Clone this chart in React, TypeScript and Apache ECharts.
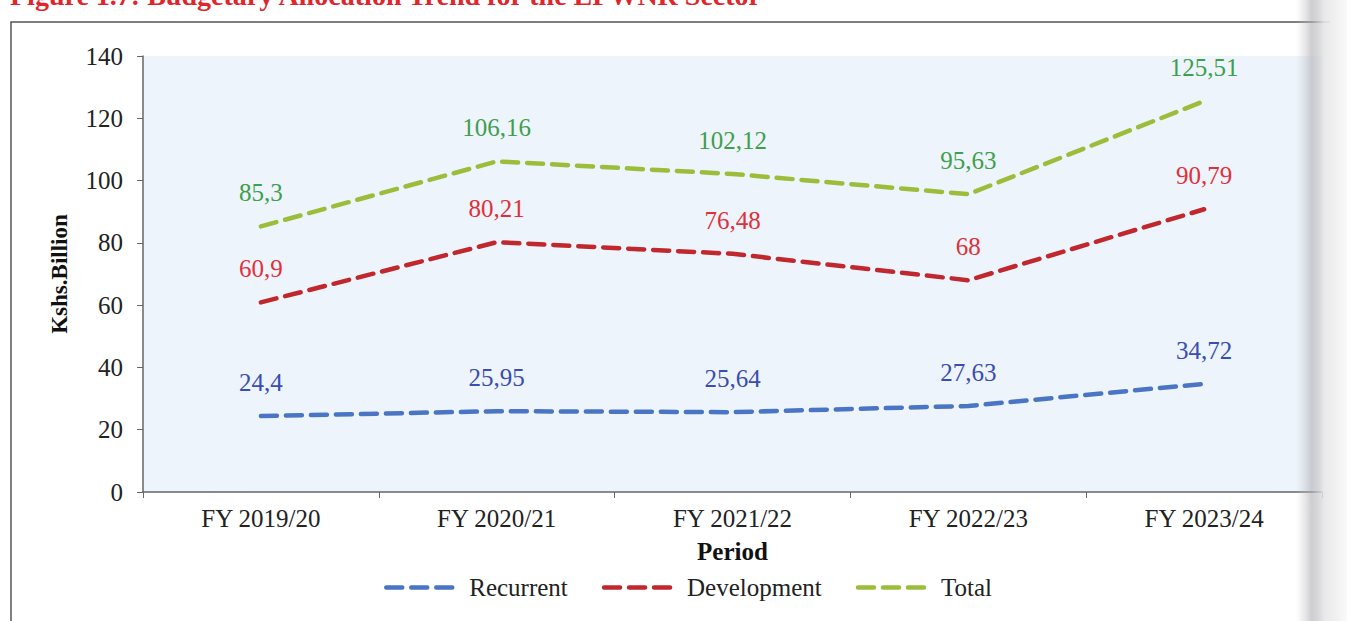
import React, { useEffect, useRef } from "react";
import * as echarts from "echarts";

const categories = ["FY 2019/20", "FY 2020/21", "FY 2021/22", "FY 2022/23", "FY 2023/24"];
const recurrent = [24.4, 25.95, 25.64, 27.63, 34.72];
const development = [60.9, 80.21, 76.48, 68, 90.79];
const total = [85.3, 106.16, 102.12, 95.63, 125.51];
const yTicks = { min: 0, max: 140, interval: 20 };

const FONT = "'Liberation Serif', 'Times New Roman', serif";
const fmt = (v: number) => String(v).replace(".", ",");

export default function App() {
  const ref = useRef<HTMLDivElement>(null);
  useEffect(() => {
    if (!ref.current) return;
    const chart = echarts.init(ref.current, null, { renderer: "svg" });
    const mkSeries = (name: string, data: number[], line: string, text: string) => ({
      name,
      type: "line",
      data,
      symbol: "circle",
      symbolSize: 2,
      showSymbol: true,
      itemStyle: { color: "rgba(0,0,0,0)", borderWidth: 0 },
      lineStyle: { color: line, width: 4.5, type: [16, 9], cap: "round" },
      label: {
        show: true,
        position: "top",
        distance: 20,
        color: text,
        fontFamily: FONT,
        fontSize: 25,
        formatter: (p: any) => fmt(p.value),
      },
    });
    chart.setOption({
      animation: false,
      backgroundColor: "#ffffff",
      textStyle: { fontFamily: FONT },
      graphic: [
        {
          type: "text",
          left: 10,
          top: -19,
          style: {
            text: "Figure 1.7: Budgetary Allocation Trend for the EPWNR Sector",
            fill: "#e0262b",
            font: "bold 28px 'Liberation Serif', serif",
          },
        },
        {
          type: "polyline",
          shape: { points: [[11, 640], [11, 22], [1330, 22]] },
          style: { stroke: "#555", lineWidth: 1.5, fill: "none" },
          silent: true,
        },
        {
          type: "rect",
          shape: { x: 1296, y: 0, width: 51, height: 621 },
          style: {
            fill: new echarts.graphic.LinearGradient(0, 0, 1, 0, [
              { offset: 0, color: "rgba(200,200,205,0)" },
              { offset: 0.3, color: "rgba(175,175,180,0.6)" },
              { offset: 0.55, color: "rgba(230,230,232,0.9)" },
              { offset: 1, color: "rgba(250,250,250,1)" },
            ]),
          },
          z: 100,
          silent: true,
        },
      ],
      grid: {
        left: 143,
        right: 25,
        top: 56,
        bottom: 129,
        show: true,
        backgroundColor: "#edf4fb",
        borderWidth: 0,
      },
      legend: {
        bottom: 16,
        left: 379,
        itemWidth: 70,
        itemHeight: 20,
        itemGap: 34,
        itemStyle: { opacity: 0 },
        lineStyle: { width: 4.5, type: [16, 9], cap: "round" },
        textStyle: { fontFamily: FONT, fontSize: 25, color: "#222", padding: [0, 0, 0, 8] },
        data: ["Recurrent", "Development", "Total"],
      },
      xAxis: {
        type: "category",
        data: categories,
        boundaryGap: true,
        name: "Period",
        nameLocation: "middle",
        nameGap: 47,
        nameTextStyle: { fontFamily: FONT, fontSize: 25, fontWeight: "bold", color: "#111" },
        axisLine: { lineStyle: { color: "#666", width: 1.5 } },
        axisTick: { show: true, length: 6, lineStyle: { color: "#666" } },
        axisLabel: { fontFamily: FONT, fontSize: 25, color: "#222", margin: 14 },
        splitLine: { show: false },
      },
      yAxis: {
        type: "value",
        min: yTicks.min,
        max: yTicks.max,
        interval: yTicks.interval,
        name: "Kshs.Billion",
        nameLocation: "middle",
        nameGap: 72,
        nameTextStyle: { fontFamily: FONT, fontSize: 23, fontWeight: "bold", color: "#111" },
        axisLine: { show: true, lineStyle: { color: "#666", width: 1.5 } },
        axisTick: { show: true, length: 6, lineStyle: { color: "#666" } },
        axisLabel: { fontFamily: FONT, fontSize: 25, color: "#222", margin: 20 },
        splitLine: { show: false },
      },
      series: [
        mkSeries("Recurrent", recurrent, "#4a74c4", "#3a4db0"),
        mkSeries("Development", development, "#c0282e", "#e0303a"),
        mkSeries("Total", total, "#9cbd3a", "#3f9f4c"),
      ],
    });
    return () => chart.dispose();
  }, []);
  return (
    <div
      ref={ref}
      style={{ position: "absolute", left: 0, top: 0, width: 1347, height: 621 }}
    />
  );
}
